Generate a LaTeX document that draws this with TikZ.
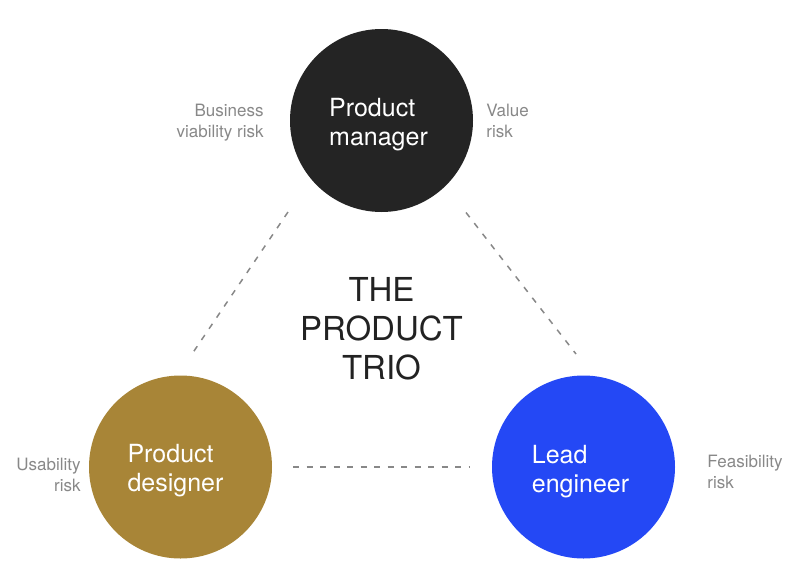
\documentclass[tikz,border=0pt]{standalone}
\usepackage{fontspec}
\setmainfont{TeX Gyre Heros}
\usepackage{xcolor}
\usetikzlibrary{positioning}

\definecolor{pmdark}{RGB}{36,36,36}
\definecolor{pdgold}{RGB}{168,133,55}
\definecolor{leblue}{RGB}{36,72,245}
\definecolor{riskgray}{RGB}{136,136,136}
\definecolor{titledark}{RGB}{34,34,34}

\begin{document}
\begin{tikzpicture}[
    x=1pt, y=-1pt,
    role/.style={circle, minimum size=183pt, inner sep=0pt},
    roletext/.style={inner sep=0pt, text=white, align=left, font=\fontsize{25}{29}\selectfont},
    risk/.style={inner sep=0pt, text=riskgray, font=\fontsize{17}{21}\selectfont},
    title/.style={inner sep=0pt, text=titledark, align=center, font=\fontsize{33}{39}\selectfont},
    link/.style={draw=riskgray, line width=1.5pt, dash pattern=on 6pt off 7.5pt}
]
\useasboundingbox (0,0) rectangle (798,581);

% Roles
\node [role, fill=pmdark] (pm) at (381.5,120.5) {};
\node [role, fill=pdgold] (designer) at (180.5,467) {};
\node [role, fill=leblue] (engineer) at (583.5,467) {};
\node [roletext] (pmtext) at ([shift={(-3,4)}]pm.center) {Product\\manager};
\node [roletext] (designertext) at ([shift={(-5,4)}]designer.center) {Product\\designer};
\node [roletext] (engineertext) at ([shift={(-3,5)}]engineer.center) {Lead\\engineer};

% Title
\node [title] (trio) at (381.5,329) {THE\\PRODUCT\\TRIO};

% Risks
\node [risk, align=right, left=26pt of pm, yshift=-2pt] (viability) {Business\\viability risk};
\node [risk, align=left, right=13pt of pm] (value) {Value\\risk};
\node [risk, align=right, left=8pt of designer, yshift=-8pt] (usability) {Usability\\risk};
\node [risk, align=left, right=32pt of engineer, yshift=-5pt] (feasibility) {Feasibility\\risk};

% Link ends
\coordinate (pmsw) at ([shift={(-93.5,91.5)}]pm.center);
\coordinate (pmse) at ([shift={(84.5,92)}]pm.center);
\coordinate (designerne) at ([shift={(11.5,-113)}]designer.center);
\coordinate (engineernw) at ([shift={(-7.5,-113)}]engineer.center);

% Links
\draw [link] (pmsw) -- (designerne);
\draw [link] (pmse) -- (engineernw);
\draw [link, shorten <=21pt, shorten >=22pt] (designer) -- (engineer);

\end{tikzpicture}
\end{document}
